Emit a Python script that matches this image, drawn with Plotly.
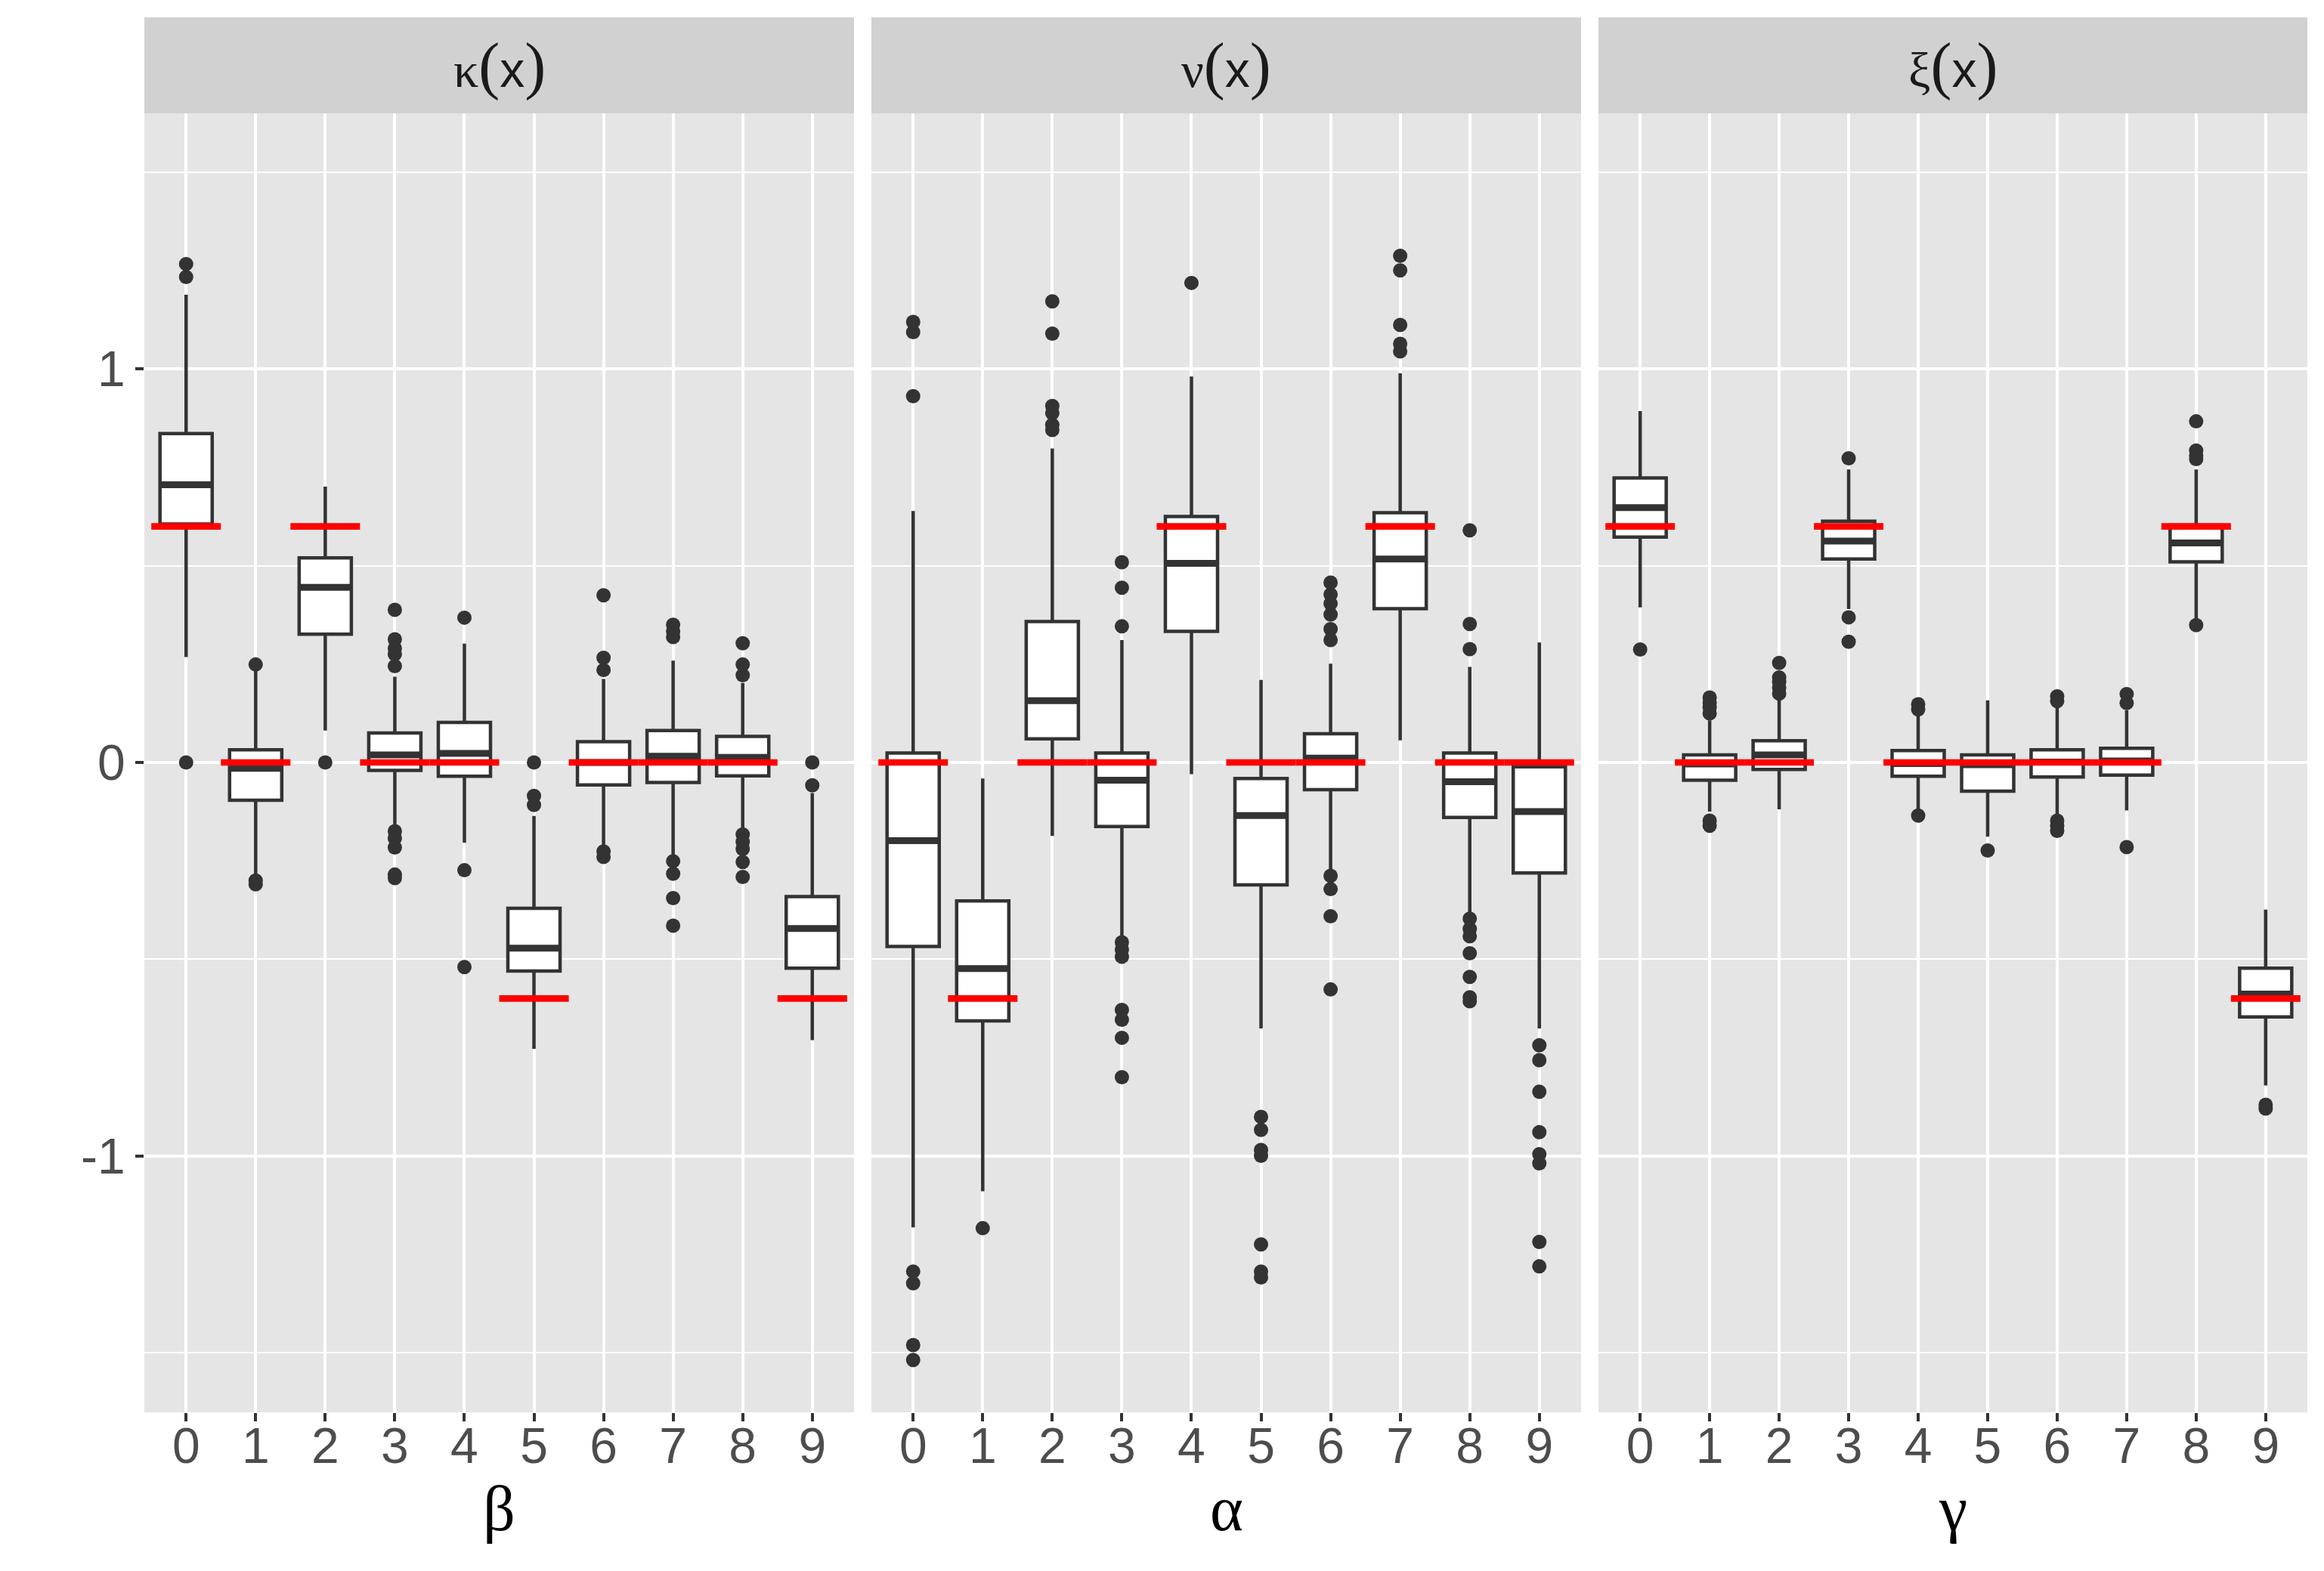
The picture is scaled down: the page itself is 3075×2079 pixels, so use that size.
import plotly.graph_objects as go

# categories shared by all three panels
cats = list(range(10))

# kappa(x) panel, x axis beta
kappa_q1 = [0.606, -0.096, 0.326, -0.020, -0.035, -0.530, -0.057, -0.051, -0.034, -0.523]
kappa_med = [0.706, -0.015, 0.445, 0.019, 0.023, -0.472, 0.000, 0.016, 0.013, -0.422]
kappa_q3 = [0.836, 0.032, 0.520, 0.075, 0.102, -0.371, 0.053, 0.081, 0.066, -0.341]
kappa_lo = [0.268, -0.290, 0.081, -0.159, -0.204, -0.728, -0.213, -0.240, -0.173, -0.706]
kappa_hi = [1.189, 0.235, 0.701, 0.218, 0.302, -0.136, 0.212, 0.259, 0.202, -0.078]
kappa_true = [0.6, 0, 0.6, 0, 0, -0.6, 0, 0, 0, -0.6]
kappa_out = [
    [1.267, 1.234, 0.0],
    [0.249, -0.300, -0.310],
    [0.0],
    [0.388, 0.313, 0.290, 0.275, 0.245, -0.175, -0.193, -0.216, -0.285, -0.294],
    [0.368, -0.274, -0.520],
    [0.0, -0.085, -0.108],
    [0.425, 0.266, 0.235, -0.226, -0.240],
    [0.350, 0.333, 0.319, -0.251, -0.283, -0.345, -0.415],
    [0.303, 0.249, 0.222, -0.183, -0.202, -0.220, -0.253, -0.291],
    [0.0, -0.058],
]

# nu(x) panel, x axis alpha
nu_q1 = [-0.468, -0.657, 0.060, -0.163, 0.333, -0.311, -0.069, 0.391, -0.140, -0.281]
nu_med = [-0.199, -0.524, 0.157, -0.045, 0.506, -0.135, 0.011, 0.517, -0.049, -0.125]
nu_q3 = [0.024, -0.352, 0.358, 0.024, 0.625, -0.041, 0.073, 0.635, 0.024, -0.011]
nu_lo = [-1.182, -1.090, -0.187, -0.448, -0.030, -0.676, -0.279, 0.056, -0.391, -0.676]
nu_hi = [0.639, -0.041, 0.798, 0.311, 0.981, 0.210, 0.251, 0.989, 0.243, 0.305]
nu_true = [0, -0.6, 0, 0, 0.6, 0, 0, 0.6, 0, 0]
nu_out = [
    [1.120, 1.094, 0.931, -1.294, -1.324, -1.481, -1.519],
    [-1.184],
    [1.172, 1.090, 0.906, 0.888, 0.858, 0.845],
    [0.509, 0.444, 0.346, -0.457, -0.476, -0.494, -0.629, -0.654, -0.700, -0.800],
    [1.219],
    [-0.901, -0.934, -0.985, -1.000, -1.225, -1.294, -1.309],
    [0.457, 0.427, 0.404, 0.376, 0.339, 0.311, -0.288, -0.322, -0.391, -0.577],
    [1.288, 1.251, 1.112, 1.064, 1.045],
    [0.590, 0.352, 0.288, -0.397, -0.423, -0.442, -0.485, -0.545, -0.597, -0.607],
    [-0.719, -0.757, -0.837, -0.940, -0.996, -1.019, -1.219, -1.281],
]

# xi(x) panel, x axis gamma
xi_q1 = [0.573, -0.045, -0.018, 0.517, -0.035, -0.073, -0.037, -0.032, 0.510, -0.647]
xi_med = [0.648, -0.004, 0.019, 0.563, -0.003, -0.006, 0.001, 0.004, 0.558, -0.589]
xi_q3 = [0.723, 0.019, 0.055, 0.613, 0.030, 0.019, 0.032, 0.036, 0.603, -0.523]
xi_lo = [0.394, -0.125, -0.119, 0.390, -0.119, -0.189, -0.138, -0.122, 0.365, -0.821]
xi_hi = [0.893, 0.107, 0.158, 0.745, 0.126, 0.158, 0.139, 0.133, 0.745, -0.374]
xi_true = [0.6, 0, 0, 0.6, 0, 0, 0, 0, 0.6, -0.6]
xi_out = [
    [0.287],
    [0.165, 0.152, 0.140, 0.125, -0.148, -0.161],
    [0.253, 0.216, 0.205, 0.190, 0.175],
    [0.773, 0.369, 0.307],
    [0.148, 0.135, -0.135],
    [-0.224],
    [0.168, 0.156, -0.148, -0.161, -0.174],
    [0.174, 0.151, -0.215],
    [0.867, 0.793, 0.780, 0.771, 0.349],
    [-0.870, -0.880],
]

strip_labels = ["κ", "ν", "ξ"]
axis_titles = ["β", "α", "γ"]

panels = [
    (kappa_q1, kappa_med, kappa_q3, kappa_lo, kappa_hi, kappa_true, kappa_out),
    (nu_q1, nu_med, nu_q3, nu_lo, nu_hi, nu_true, nu_out),
    (xi_q1, xi_med, xi_q3, xi_lo, xi_hi, xi_true, xi_out),
]

# page body has an 8px margin, so the figure is a bit smaller than the window
W, H = 3059, 2063
ML, MR, MT, MB = 183, 14, 142, 202
plot_w = W - ML - MR
plot_h = H - MT - MB
panel_w = 939 / plot_w
gap = 23 / plot_w
domains = [[i * (panel_w + gap), i * (panel_w + gap) + panel_w] for i in range(3)]
domains[2][1] = 1.0

DARK = "#333333"
BOX_W = 0.75
SERIF = "Liberation Serif"

fig = go.Figure()

for i, (q1, med, q3, lo, hi, true, outs) in enumerate(panels):
    xa = "x" if i == 0 else f"x{i + 1}"
    ya = "y" if i == 0 else f"y{i + 1}"

    fig.add_trace(go.Box(
        x=cats, q1=q1, median=med, q3=q3, lowerfence=lo, upperfence=hi,
        boxpoints=False, width=BOX_W, fillcolor="white",
        line=dict(color=DARK, width=4.5), whiskerwidth=0,
        xaxis=xa, yaxis=ya, showlegend=False, hoverinfo="skip",
    ))

    # thicker median bars like ggplot
    mx, my = [], []
    for c, m in zip(cats, med):
        mx += [c - BOX_W / 2, c + BOX_W / 2, None]
        my += [m, m, None]
    fig.add_trace(go.Scatter(
        x=mx, y=my, mode="lines", line=dict(color=DARK, width=9),
        xaxis=xa, yaxis=ya, showlegend=False, hoverinfo="skip",
    ))

    ox, oy = [], []
    for c, pts in zip(cats, outs):
        ox += [c] * len(pts)
        oy += pts
    fig.add_trace(go.Scatter(
        x=ox, y=oy, mode="markers", marker=dict(color=DARK, size=19),
        xaxis=xa, yaxis=ya, showlegend=False, hoverinfo="skip",
    ))

    # true values as red segments
    rx, ry = [], []
    for c, t in zip(cats, true):
        rx += [c - 0.5, c + 0.5, None]
        ry += [t, t, None]
    fig.add_trace(go.Scatter(
        x=rx, y=ry, mode="lines", line=dict(color="#FF0000", width=8.7),
        xaxis=xa, yaxis=ya, showlegend=False, hoverinfo="skip",
    ))

tick_font = dict(family="Liberation Sans, Arial, sans-serif", size=66, color="#4D4D4D")

layout = dict(
    width=W, height=H,
    margin=dict(l=ML, r=MR, t=MT, b=MB),
    paper_bgcolor="white", plot_bgcolor="#E5E5E5",
    showlegend=False,
    shapes=[], annotations=[],
)

for i in range(3):
    sfx = "" if i == 0 else str(i + 1)
    layout[f"xaxis{sfx}"] = dict(
        domain=domains[i], anchor=f"y{sfx}", range=[-0.6, 9.6],
        tickvals=cats, ticktext=[str(c) for c in cats],
        showgrid=True, gridcolor="white", gridwidth=4,
        zeroline=False, showline=False,
        ticks="outside", ticklen=11, tickwidth=4, tickcolor=DARK,
        ticklabelstandoff=-24,
        tickfont=tick_font,
    )
    ydict = dict(
        anchor=f"x{sfx}", range=[-1.652, 1.650],
        tickvals=[-1, 0, 1], ticktext=["-1", "0", "1"],
        showgrid=True, gridcolor="white", gridwidth=4,
        minor=dict(tickvals=[-1.5, -0.5, 0.5, 1.5], showgrid=True,
                   gridcolor="white", gridwidth=2, ticks=""),
        zeroline=False, showline=False,
        ticks="outside" if i == 0 else "", ticklen=11, tickwidth=4, tickcolor=DARK,
        showticklabels=(i == 0), tickfont=tick_font,
    )
    if i > 0:
        ydict["matches"] = "y"
    layout[f"yaxis{sfx}"] = ydict

    # facet strip
    layout["shapes"].append(dict(
        type="rect", xref="paper", yref="paper",
        x0=domains[i][0], x1=domains[i][1], y0=1, y1=1 + 127 / plot_h,
        fillcolor="#D1D1D1", line=dict(width=0), layer="below",
    ))
    paren = f'<span style="font-family:{SERIF};font-size:84px">%s</span>'
    strip_text = (f'<span style="font-family:{SERIF}">{strip_labels[i]}</span>'
                  + paren % "(" + "x" + paren % ")")
    layout["annotations"].append(dict(
        xref="paper", yref="paper",
        x=(domains[i][0] + domains[i][1]) / 2, y=1 + 63.5 / plot_h,
        xanchor="center", yanchor="middle", showarrow=False,
        text=strip_text,
        font=dict(family="Liberation Sans, Arial, sans-serif", size=66, color="#1A1A1A"),
    ))
    layout["annotations"].append(dict(
        xref="paper", yref="paper",
        x=(domains[i][0] + domains[i][1]) / 2, y=-(1988 - (H - MB)) / plot_h,
        xanchor="center", yanchor="middle", showarrow=False,
        text=axis_titles[i],
        font=dict(family="Liberation Serif, Times New Roman, serif", size=84, color="black"),
    ))

fig.update_layout(**layout)

fig.write_html("out.html")
